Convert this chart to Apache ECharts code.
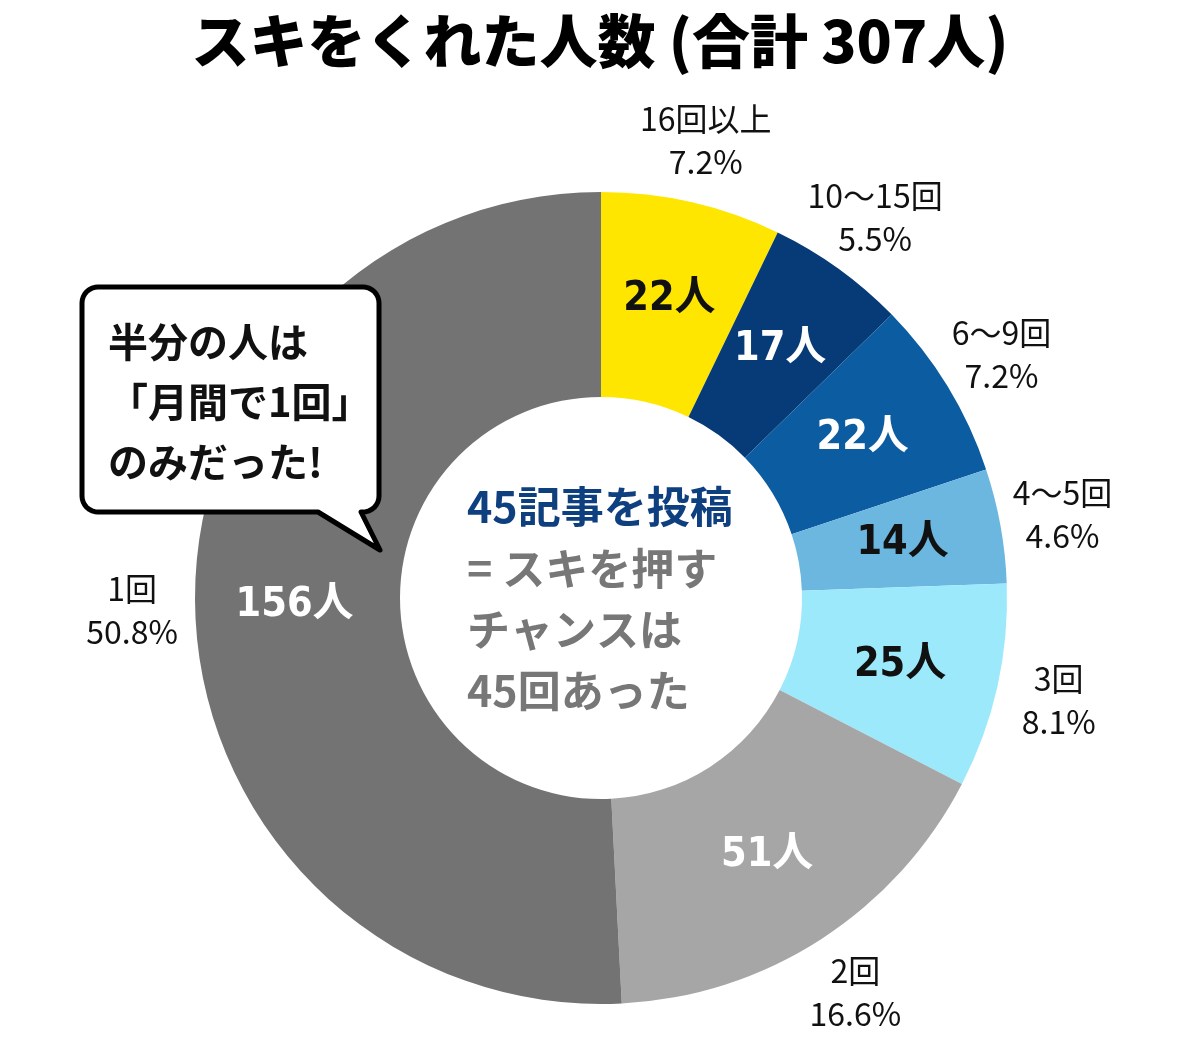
<!DOCTYPE html>
<html>
<head>
<meta charset="utf-8">
<script src="https://cdn.jsdelivr.net/npm/echarts@6/dist/echarts.min.js"></script>
<style>
html,body{margin:0;padding:0;background:#fff;}
#chart{width:1200px;height:1037px;}
</style>
</head>
<body>
<div id="chart"></div>
<script>
// ---- data ----
const categories = ['16回以上', '10〜15回', '6〜9回', '4〜5回', '3回', '2回', '1回'];
const counts = [22, 17, 22, 14, 25, 51, 156];
const titleText = 'スキをくれた人数 (合計 307人)';
const bubbleLines = ['半分の人は', '「月間で1回」', 'のみだった!'];
const centerHead = '45記事を投稿';
const centerLines = ['= スキを押す', 'チャンスは', '45回あった'];

// ---- styles ----
const sliceColors = ['#FFE600', '#073B78', '#0B5CA0', '#6CB7E0', '#9CE9FC', '#A6A6A6', '#737373'];
const innerLabelColors = ['#111', '#fff', '#fff', '#111', '#111', '#fff', '#fff'];
const JP = "'Noto Sans CJK JP', 'Noto Sans', sans-serif";
const NARROW = "'Liberation Sans Narrow', 'Arial Narrow', 'DejaVu Sans Condensed', 'Noto Sans CJK JP', sans-serif";

// speech bubble outline (decoration): rounded rectangle with a tail
function bubblePoints(x0, y0, x1, y1, r, tail) {
  const pts = [];
  function arc(cx, cy, a0, a1) {
    const n = 8;
    for (let k = 0; k <= n; k++) {
      const a = a0 + (a1 - a0) * k / n;
      pts.push([cx + r * Math.cos(a), cy + r * Math.sin(a)]);
    }
  }
  arc(x0 + r, y0 + r, Math.PI, 1.5 * Math.PI);      // top-left
  arc(x1 - r, y0 + r, 1.5 * Math.PI, 2 * Math.PI);  // top-right
  arc(x1 - r, y1 - r, 0, 0.5 * Math.PI);            // bottom-right
  pts.push([tail[0], y1], [tail[1], tail[2]], [tail[3], y1]);
  arc(x0 + r, y1 - r, 0.5 * Math.PI, Math.PI);      // bottom-left
  return pts;
}

const chart = echarts.init(document.getElementById('chart'), null, {renderer: 'canvas'});

const mainData = categories.map((name, i) => ({
  name: name,
  value: counts[i],
  itemStyle: {color: sliceColors[i]},
  label: {color: innerLabelColors[i]}
}));
const labelData = categories.map((name, i) => ({name: name, value: counts[i]}));

chart.setOption({
  animation: false,
  backgroundColor: '#fff',
  title: {
    text: titleText,
    left: 'center',
    top: 3,
    textStyle: {fontFamily: JP, fontSize: 58, fontWeight: 900, color: '#000', lineHeight: 66}
  },
  series: [
    {
      type: 'pie',
      silent: true,
      center: [601, 598],
      radius: [201, 406],
      startAngle: 90,
      clockwise: true,
      data: mainData,
      label: {
        show: true,
        position: 'inside',
        formatter: '{c}人',
        fontFamily: NARROW,
        fontWeight: 'bold',
        fontSize: 41
      },
      labelLine: {show: false},
      emphasis: {disabled: true}
    },
    {
      type: 'pie',
      silent: true,
      center: [601, 598],
      radius: [436, 496],
      startAngle: 90,
      clockwise: true,
      percentPrecision: 1,
      data: labelData,
      itemStyle: {color: 'rgba(0,0,0,0)'},
      label: {
        show: true,
        position: 'inside',
        formatter: '{b}\n{d}%',
        fontFamily: JP,
        fontWeight: 'normal',
        fontSize: 32,
        lineHeight: 43,
        color: '#111'
      },
      labelLine: {show: false},
      emphasis: {disabled: true}
    }
  ],
  graphic: [
    {
      type: 'polygon',
      z: 100,
      shape: {points: bubblePoints(82, 287, 379, 512, 16, [361, 380, 550, 318])},
      style: {fill: '#fff', stroke: '#000', lineWidth: 5, lineJoin: 'round'}
    },
    {
      type: 'text',
      z: 101,
      x: 108,
      y: 312,
      style: {
        text: bubbleLines.join('\n'),
        fontFamily: JP,
        fontSize: 40,
        fontWeight: 'bold',
        lineHeight: 60,
        fill: '#111',
        textAlign: 'left',
        textVerticalAlign: 'top'
      }
    },
    {
      type: 'text',
      z: 101,
      x: 467,
      y: 507,
      style: {
        text: centerHead,
        fontFamily: JP,
        fontSize: 43,
        fontWeight: 'bold',
        fill: '#0E3F7E',
        textAlign: 'left',
        textVerticalAlign: 'middle'
      }
    },
    {
      type: 'text',
      z: 101,
      x: 467,
      y: 538,
      style: {
        text: centerLines.join('\n'),
        fontFamily: JP,
        fontSize: 43,
        fontWeight: 'bold',
        lineHeight: 61,
        fill: '#777777',
        textAlign: 'left',
        textVerticalAlign: 'top'
      }
    }
  ]
});
</script>
</body>
</html>
